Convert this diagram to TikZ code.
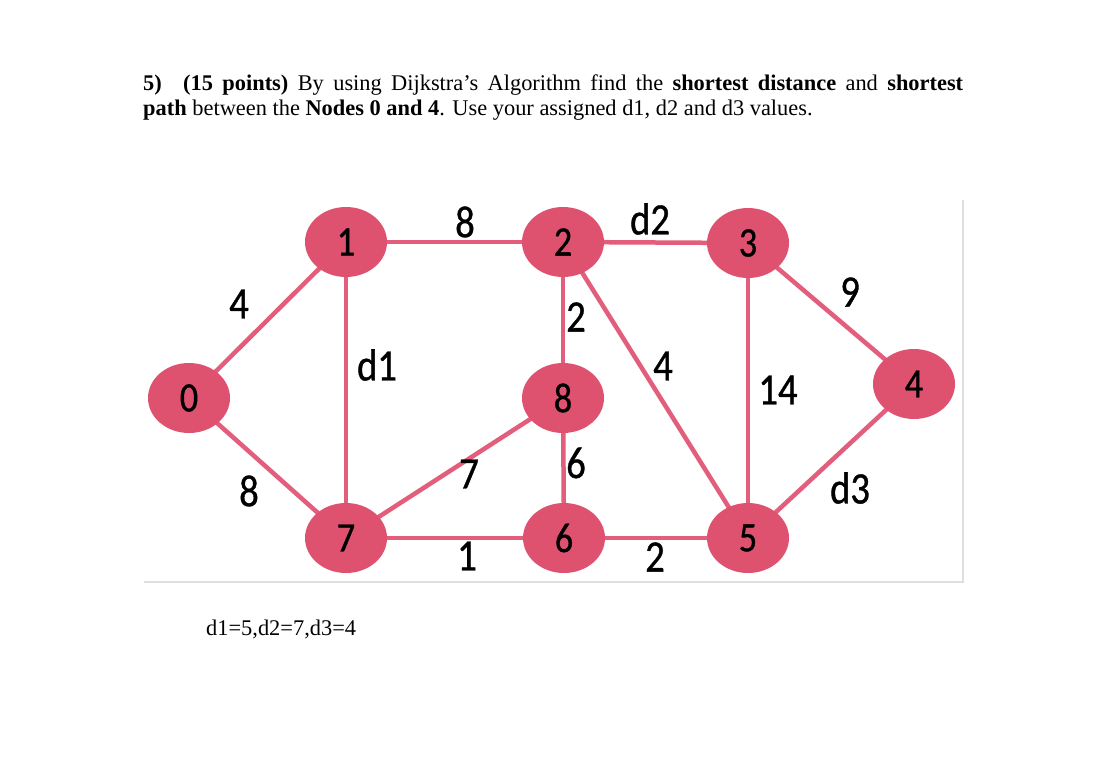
\documentclass[tikz,border=0pt]{standalone}
\usepackage{fontspec}
\setmainfont{Liberation Serif}
\newfontfamily\graphfont[FakeStretch=0.86,FakeBold=0.8]{Carlito}
\usetikzlibrary{shapes.geometric}
\pgfdeclarelayer{background}
\pgfsetlayers{background,main}
\definecolor{nodecol}{RGB}{222,82,112}
\definecolor{edgecol}{RGB}{226,94,124}
\definecolor{framecol}{RGB}{222,222,222}
\begin{document}
\begin{tikzpicture}[x=1pt,y=-1pt,
  vert/.style={ellipse,fill=nodecol,draw=none,minimum width=82pt,minimum height=70pt,inner sep=0pt,
    font=\graphfont\fontsize{42}{42}\selectfont,text=black},
  link/.style={draw=edgecol,line width=4.5pt},
  wlabel/.style={inner sep=0pt,font=\graphfont\fontsize{45}{45}\selectfont,text=black},
  body/.style={inner sep=0pt,font=\fontsize{22.4}{25.8}\selectfont,text=black}]
\begin{pgfonlayer}{background}
\fill[white] (0,0) rectangle (1094,770);
\end{pgfonlayer}
\useasboundingbox (0,0) rectangle (1094,770);

% question text
\node[body,anchor=base west] (q1) at (143,91) {\makebox[820pt][s]{\textbf{5)}\hspace{12pt} \textbf{(15 points)} By using Dijkstra’s Algorithm find the \textbf{shortest distance} and \textbf{shortest}}};
\node[body,anchor=base west] (q2) at (143,116) {\textbf{path} between the \textbf{Nodes 0 and 4}. Use your assigned d1, d2 and d3 values.};
\node[body,anchor=base west] (dv) at (206,635) {d1=5,d2=7,d3=4};

% frame of the figure
\coordinate (fa) at (963,200);
\coordinate (fb) at (963,582);
\coordinate (fc) at (144,582);
\draw[framecol,line width=1.2pt] (fa) -- (fb) -- (fc);

% vertices
\node[vert] (n0) at (189,398) {0};
\node[vert] (n1) at (346,242) {1};
\node[vert] (n2) at (563,242) {2};
\node[vert] (n3) at (748,243) {3};
\node[vert] (n4) at (914,384) {4};
\node[vert] (n8) at (563,398) {8};
\node[vert] (n7) at (346,538) {7};
\node[vert] (n6) at (564,538) {6};
\node[vert] (n5) at (748,538) {5};

% edges, behind the vertices
\begin{pgfonlayer}{background}
\draw[link] (n0.center) -- (n1.center);
\draw[link] (n0.center) -- (n7.center);
\draw[link] (n1.center) -- (n2.center);
\draw[link] (n1.center) -- (n7.center);
\draw[link] (n2.center) -- (n3.center);
\draw[link] (n2.center) -- (n8.center);
\draw[link] (n2.center) -- (n5.center);
\draw[link] (n3.center) -- (n4.center);
\draw[link] (n3.center) -- (n5.center);
\draw[link] (n4.center) -- (n5.center);
\draw[link] (n8.center) -- (n7.center);
\draw[link] (n8.center) -- (n6.center);
\draw[link] (n7.center) -- (n6.center);
\draw[link] (n6.center) -- (n5.center);
\end{pgfonlayer}

% weights
\node[wlabel] (w12) at (465,222) {8};
\node[wlabel] (w23) at (650,219) {d2};
\node[wlabel] (w01) at (239,304) {4};
\node[wlabel] (w17) at (377,365) {d1};
\node[wlabel] (w28) at (576,317) {2};
\node[wlabel] (w25) at (663,366) {4};
\node[wlabel] (w34) at (850,292) {9};
\node[wlabel] (w35) at (778,390) {14};
\node[wlabel] (w78) at (469,474) {7};
\node[wlabel] (w86) at (576,463) {6};
\node[wlabel] (w07) at (249,491) {8};
\node[wlabel] (w45) at (850,488) {d3};
\node[wlabel] (w76) at (467,556) {1};
\node[wlabel] (w65) at (655,557) {2};
\end{tikzpicture}
\end{document}
